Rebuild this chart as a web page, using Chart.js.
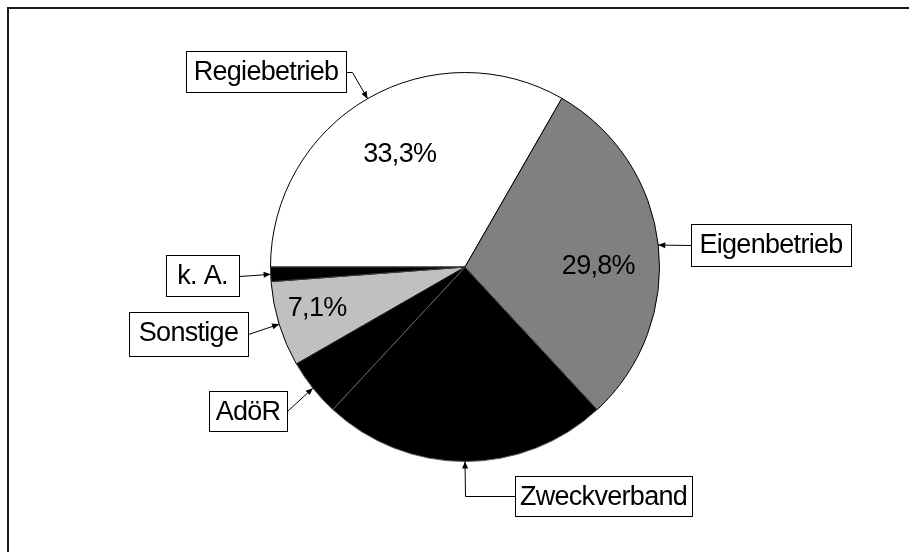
<!DOCTYPE html>
<html>
<head>
<meta charset="utf-8">
<script src="https://cdn.jsdelivr.net/npm/chart.js@4"></script>
<style>
  body { margin: 0; background: #fff; }
  #wrap { width: 909px; height: 552px; }
</style>
</head>
<body>
<div id="wrap"><canvas id="pie" width="909" height="552"></canvas></div>
<script>
const categories = ['Regiebetrieb', 'Eigenbetrieb', 'Zweckverband', 'AdöR', 'Sonstige', 'k. A.'];
const shares = [33.3, 29.8, 23.8, 4.8, 7.1, 1.2];
const showPercent = [true, true, false, false, true, false];

const sliceColors = ['#ffffff', '#808080', '#000000', '#000000', '#c0c0c0', '#000000'];
const edgeColors = ['#000000', '#000000', '#606060', '#606060', '#000000', '#404040'];
const fontFamily = '"Liberation Sans", Arial, sans-serif';
const textFont = '27px ' + fontFamily;

// Callout boxes (left, top, width, height), the side the leader leaves from,
// and how the leader bends before it reaches the middle of the slice's rim
const callouts = [
  { box: [186, 51, 160, 41], side: 'right', bend: 'stub' },
  { box: [691, 224, 160, 42], side: 'left' },
  { box: [515, 476, 177, 40], side: 'left', bend: 'elbow' },
  { box: [209, 391, 78, 40], side: 'right' },
  { box: [129, 312, 119, 44], side: 'right' },
  { box: [166, 255, 73, 41], side: 'right' },
];

// Percent labels: fraction of radius along the slice's middle, plus a nudge
const pctPlace = [
  { r: 0.67, dx: 0, dy: 0 },
  { r: 0.69, dx: 0, dy: 15 },
  null,
  null,
  { r: 0.79, dx: -1, dy: -4 },
  null,
];

function fmtPct(v) {
  return v.toFixed(1).replace('.', ',') + '%';
}

function arrowTo(ctx, fx, fy, tx, ty) {
  const a = Math.atan2(ty - fy, tx - fx);
  const len = 7, half = 3;
  ctx.beginPath();
  ctx.moveTo(tx, ty);
  ctx.lineTo(tx - len * Math.cos(a) + half * Math.sin(a), ty - len * Math.sin(a) - half * Math.cos(a));
  ctx.lineTo(tx - len * Math.cos(a) - half * Math.sin(a), ty - len * Math.sin(a) + half * Math.cos(a));
  ctx.closePath();
  ctx.fill();
}

const framePlugin = {
  id: 'frame',
  beforeDraw(chart) {
    const ctx = chart.ctx;
    ctx.save();
    ctx.fillStyle = '#fff';
    ctx.fillRect(0, 0, chart.width, chart.height);
    ctx.strokeStyle = '#1a1a1a';
    ctx.lineWidth = 2;
    ctx.strokeRect(8, 8, 1200, 1200);
    ctx.restore();
  }
};

const labelPlugin = {
  id: 'pieLabels',
  afterDatasetsDraw(chart) {
    const ctx = chart.ctx;
    const arcs = chart.getDatasetMeta(0).data;
    ctx.save();
    ctx.fillStyle = '#000';
    ctx.strokeStyle = '#000';
    ctx.textAlign = 'center';
    ctx.font = textFont;
    ctx.letterSpacing = '-0.7px';

    arcs.forEach((arc, i) => {
      const p = arc.getProps(['x', 'y', 'startAngle', 'endAngle', 'outerRadius'], true);
      const mid = (p.startAngle + p.endAngle) / 2;

      // percent value inside the slice
      if (showPercent[i]) {
        const pl = pctPlace[i];
        const lx = p.x + Math.cos(mid) * p.outerRadius * pl.r + pl.dx;
        const ly = p.y + Math.sin(mid) * p.outerRadius * pl.r + pl.dy;
        ctx.textBaseline = 'middle';
        ctx.fillText(fmtPct(shares[i]), lx, ly);
      }

      // callout box with the category name
      const c = callouts[i];
      const [bx, by, bw, bh] = c.box;
      ctx.fillStyle = '#fff';
      ctx.fillRect(bx, by, bw, bh);
      ctx.fillStyle = '#000';
      ctx.lineWidth = 1;
      ctx.strokeRect(bx + 0.5, by + 0.5, bw, bh);
      ctx.textBaseline = 'alphabetic';
      ctx.fillText(categories[i], bx + bw / 2, by + 29);

      // leader line to the middle of the rim
      const tx = p.x + Math.cos(mid) * p.outerRadius;
      const ty = p.y + Math.sin(mid) * p.outerRadius;
      const sx = c.side === 'right' ? bx + bw + 0.5 : bx + 0.5;
      const sy = Math.round(by + bh / 2) + 0.5;
      let fx = sx, fy = sy;
      ctx.beginPath();
      ctx.moveTo(sx, sy);
      if (c.bend === 'stub') {
        fx = sx + 6;
        ctx.lineTo(fx, fy);
      } else if (c.bend === 'elbow') {
        fx = Math.round(tx) + 0.5;
        ctx.lineTo(fx, fy);
      }
      ctx.lineTo(tx, ty);
      ctx.stroke();
      arrowTo(ctx, fx, fy, tx, ty);
    });
    ctx.restore();
  }
};

new Chart(document.getElementById('pie'), {
  type: 'pie',
  data: {
    labels: categories,
    datasets: [{
      data: shares,
      backgroundColor: sliceColors,
      borderColor: edgeColors,
      borderWidth: 1,
      hoverOffset: 0,
    }]
  },
  options: {
    responsive: false,
    animation: false,
    rotation: -90,
    layout: { padding: { left: 270, right: 249, top: 72, bottom: 90 } },
    events: [],
    plugins: {
      legend: { display: false },
      tooltip: { enabled: false },
    }
  },
  plugins: [framePlugin, labelPlugin]
});
</script>
</body>
</html>
